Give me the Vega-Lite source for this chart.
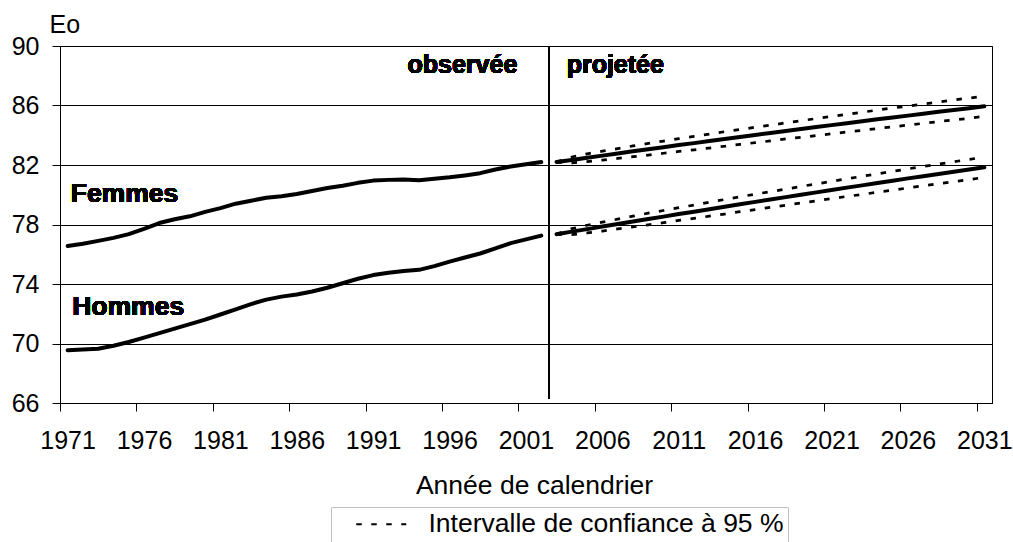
{
  "$schema": "https://vega.github.io/schema/vega-lite/v6.json",
  "width": 932,
  "height": 357,
  "autosize": {"type": "none"},
  "padding": {"left": 60, "top": 46, "right": 21, "bottom": 140},
  "background": "white",
  "config": {
    "font": "Liberation Sans",
    "view": {"stroke": "black", "strokeWidth": 1},
    "axis": {"labelFont": "Liberation Sans", "titleFont": "Liberation Sans", "labelColor": "black", "titleColor": "black"}
  },
  "data": {"values": [
    {"annee": 1971, "sexe": "Femmes", "periode": "observée", "eo": 76.55},
    {"annee": 1972, "sexe": "Femmes", "periode": "observée", "eo": 76.7},
    {"annee": 1973, "sexe": "Femmes", "periode": "observée", "eo": 76.9},
    {"annee": 1974, "sexe": "Femmes", "periode": "observée", "eo": 77.1},
    {"annee": 1975, "sexe": "Femmes", "periode": "observée", "eo": 77.35},
    {"annee": 1976, "sexe": "Femmes", "periode": "observée", "eo": 77.7},
    {"annee": 1977, "sexe": "Femmes", "periode": "observée", "eo": 78.1},
    {"annee": 1978, "sexe": "Femmes", "periode": "observée", "eo": 78.35},
    {"annee": 1979, "sexe": "Femmes", "periode": "observée", "eo": 78.55},
    {"annee": 1980, "sexe": "Femmes", "periode": "observée", "eo": 78.85},
    {"annee": 1981, "sexe": "Femmes", "periode": "observée", "eo": 79.1},
    {"annee": 1982, "sexe": "Femmes", "periode": "observée", "eo": 79.4},
    {"annee": 1983, "sexe": "Femmes", "periode": "observée", "eo": 79.6},
    {"annee": 1984, "sexe": "Femmes", "periode": "observée", "eo": 79.8},
    {"annee": 1985, "sexe": "Femmes", "periode": "observée", "eo": 79.9},
    {"annee": 1986, "sexe": "Femmes", "periode": "observée", "eo": 80.05},
    {"annee": 1987, "sexe": "Femmes", "periode": "observée", "eo": 80.25},
    {"annee": 1988, "sexe": "Femmes", "periode": "observée", "eo": 80.45},
    {"annee": 1989, "sexe": "Femmes", "periode": "observée", "eo": 80.6},
    {"annee": 1990, "sexe": "Femmes", "periode": "observée", "eo": 80.8},
    {"annee": 1991, "sexe": "Femmes", "periode": "observée", "eo": 80.95},
    {"annee": 1992, "sexe": "Femmes", "periode": "observée", "eo": 81.0},
    {"annee": 1993, "sexe": "Femmes", "periode": "observée", "eo": 81.02},
    {"annee": 1994, "sexe": "Femmes", "periode": "observée", "eo": 80.98},
    {"annee": 1995, "sexe": "Femmes", "periode": "observée", "eo": 81.08},
    {"annee": 1996, "sexe": "Femmes", "periode": "observée", "eo": 81.17},
    {"annee": 1997, "sexe": "Femmes", "periode": "observée", "eo": 81.3},
    {"annee": 1998, "sexe": "Femmes", "periode": "observée", "eo": 81.45},
    {"annee": 1999, "sexe": "Femmes", "periode": "observée", "eo": 81.7},
    {"annee": 2000, "sexe": "Femmes", "periode": "observée", "eo": 81.9},
    {"annee": 2001, "sexe": "Femmes", "periode": "observée", "eo": 82.05},
    {"annee": 2002, "sexe": "Femmes", "periode": "observée", "eo": 82.2},
    {"annee": 1971, "sexe": "Hommes", "periode": "observée", "eo": 69.55},
    {"annee": 1972, "sexe": "Hommes", "periode": "observée", "eo": 69.6},
    {"annee": 1973, "sexe": "Hommes", "periode": "observée", "eo": 69.65},
    {"annee": 1974, "sexe": "Hommes", "periode": "observée", "eo": 69.85},
    {"annee": 1975, "sexe": "Hommes", "periode": "observée", "eo": 70.1},
    {"annee": 1976, "sexe": "Hommes", "periode": "observée", "eo": 70.4},
    {"annee": 1977, "sexe": "Hommes", "periode": "observée", "eo": 70.7},
    {"annee": 1978, "sexe": "Hommes", "periode": "observée", "eo": 71.0},
    {"annee": 1979, "sexe": "Hommes", "periode": "observée", "eo": 71.3},
    {"annee": 1980, "sexe": "Hommes", "periode": "observée", "eo": 71.6},
    {"annee": 1981, "sexe": "Hommes", "periode": "observée", "eo": 71.95},
    {"annee": 1982, "sexe": "Hommes", "periode": "observée", "eo": 72.3},
    {"annee": 1983, "sexe": "Hommes", "periode": "observée", "eo": 72.65},
    {"annee": 1984, "sexe": "Hommes", "periode": "observée", "eo": 72.95},
    {"annee": 1985, "sexe": "Hommes", "periode": "observée", "eo": 73.15},
    {"annee": 1986, "sexe": "Hommes", "periode": "observée", "eo": 73.3},
    {"annee": 1987, "sexe": "Hommes", "periode": "observée", "eo": 73.5},
    {"annee": 1988, "sexe": "Hommes", "periode": "observée", "eo": 73.75},
    {"annee": 1989, "sexe": "Hommes", "periode": "observée", "eo": 74.05},
    {"annee": 1990, "sexe": "Hommes", "periode": "observée", "eo": 74.35},
    {"annee": 1991, "sexe": "Hommes", "periode": "observée", "eo": 74.6},
    {"annee": 1992, "sexe": "Hommes", "periode": "observée", "eo": 74.75},
    {"annee": 1993, "sexe": "Hommes", "periode": "observée", "eo": 74.88},
    {"annee": 1994, "sexe": "Hommes", "periode": "observée", "eo": 74.95},
    {"annee": 1995, "sexe": "Hommes", "periode": "observée", "eo": 75.2},
    {"annee": 1996, "sexe": "Hommes", "periode": "observée", "eo": 75.5},
    {"annee": 1997, "sexe": "Hommes", "periode": "observée", "eo": 75.78},
    {"annee": 1998, "sexe": "Hommes", "periode": "observée", "eo": 76.05},
    {"annee": 1999, "sexe": "Hommes", "periode": "observée", "eo": 76.4},
    {"annee": 2000, "sexe": "Hommes", "periode": "observée", "eo": 76.75},
    {"annee": 2001, "sexe": "Hommes", "periode": "observée", "eo": 77.0},
    {"annee": 2002, "sexe": "Hommes", "periode": "observée", "eo": 77.25},
    {"annee": 2003, "sexe": "Femmes", "periode": "projetée", "eo": 82.20, "bas": 82.20, "haut": 82.20},
    {"annee": 2004, "sexe": "Femmes", "periode": "projetée", "eo": 82.34, "bas": 82.14, "haut": 82.54},
    {"annee": 2005, "sexe": "Femmes", "periode": "projetée", "eo": 82.49, "bas": 82.23, "haut": 82.75},
    {"annee": 2006, "sexe": "Femmes", "periode": "projetée", "eo": 82.63, "bas": 82.33, "haut": 82.93},
    {"annee": 2007, "sexe": "Femmes", "periode": "projetée", "eo": 82.77, "bas": 82.44, "haut": 83.10},
    {"annee": 2008, "sexe": "Femmes", "periode": "projetée", "eo": 82.92, "bas": 82.56, "haut": 83.28},
    {"annee": 2009, "sexe": "Femmes", "periode": "projetée", "eo": 83.06, "bas": 82.67, "haut": 83.45},
    {"annee": 2010, "sexe": "Femmes", "periode": "projetée", "eo": 83.20, "bas": 82.79, "haut": 83.61},
    {"annee": 2011, "sexe": "Femmes", "periode": "projetée", "eo": 83.34, "bas": 82.91, "haut": 83.77},
    {"annee": 2012, "sexe": "Femmes", "periode": "projetée", "eo": 83.47, "bas": 83.02, "haut": 83.92},
    {"annee": 2013, "sexe": "Femmes", "periode": "projetée", "eo": 83.61, "bas": 83.14, "haut": 84.08},
    {"annee": 2014, "sexe": "Femmes", "periode": "projetée", "eo": 83.75, "bas": 83.26, "haut": 84.24},
    {"annee": 2015, "sexe": "Femmes", "periode": "projetée", "eo": 83.88, "bas": 83.38, "haut": 84.38},
    {"annee": 2016, "sexe": "Femmes", "periode": "projetée", "eo": 84.02, "bas": 83.50, "haut": 84.54},
    {"annee": 2017, "sexe": "Femmes", "periode": "projetée", "eo": 84.15, "bas": 83.62, "haut": 84.68},
    {"annee": 2018, "sexe": "Femmes", "periode": "projetée", "eo": 84.29, "bas": 83.75, "haut": 84.83},
    {"annee": 2019, "sexe": "Femmes", "periode": "projetée", "eo": 84.42, "bas": 83.86, "haut": 84.98},
    {"annee": 2020, "sexe": "Femmes", "periode": "projetée", "eo": 84.55, "bas": 83.98, "haut": 85.12},
    {"annee": 2021, "sexe": "Femmes", "periode": "projetée", "eo": 84.68, "bas": 84.10, "haut": 85.26},
    {"annee": 2022, "sexe": "Femmes", "periode": "projetée", "eo": 84.81, "bas": 84.22, "haut": 85.40},
    {"annee": 2023, "sexe": "Femmes", "periode": "projetée", "eo": 84.94, "bas": 84.33, "haut": 85.55},
    {"annee": 2024, "sexe": "Femmes", "periode": "projetée", "eo": 85.07, "bas": 84.45, "haut": 85.69},
    {"annee": 2025, "sexe": "Femmes", "periode": "projetée", "eo": 85.20, "bas": 84.57, "haut": 85.83},
    {"annee": 2026, "sexe": "Femmes", "periode": "projetée", "eo": 85.32, "bas": 84.68, "haut": 85.96},
    {"annee": 2027, "sexe": "Femmes", "periode": "projetée", "eo": 85.45, "bas": 84.80, "haut": 86.10},
    {"annee": 2028, "sexe": "Femmes", "periode": "projetée", "eo": 85.58, "bas": 84.92, "haut": 86.24},
    {"annee": 2029, "sexe": "Femmes", "periode": "projetée", "eo": 85.70, "bas": 85.03, "haut": 86.37},
    {"annee": 2030, "sexe": "Femmes", "periode": "projetée", "eo": 85.82, "bas": 85.14, "haut": 86.50},
    {"annee": 2031, "sexe": "Femmes", "periode": "projetée", "eo": 85.95, "bas": 85.27, "haut": 86.63},
    {"annee": 2003, "sexe": "Hommes", "periode": "projetée", "eo": 77.35, "bas": 77.35, "haut": 77.35},
    {"annee": 2004, "sexe": "Hommes", "periode": "projetée", "eo": 77.52, "bas": 77.32, "haut": 77.72},
    {"annee": 2005, "sexe": "Hommes", "periode": "projetée", "eo": 77.69, "bas": 77.43, "haut": 77.95},
    {"annee": 2006, "sexe": "Hommes", "periode": "projetée", "eo": 77.86, "bas": 77.56, "haut": 78.16},
    {"annee": 2007, "sexe": "Hommes", "periode": "projetée", "eo": 78.03, "bas": 77.70, "haut": 78.36},
    {"annee": 2008, "sexe": "Hommes", "periode": "projetée", "eo": 78.20, "bas": 77.84, "haut": 78.56},
    {"annee": 2009, "sexe": "Hommes", "periode": "projetée", "eo": 78.37, "bas": 77.98, "haut": 78.76},
    {"annee": 2010, "sexe": "Hommes", "periode": "projetée", "eo": 78.53, "bas": 78.12, "haut": 78.94},
    {"annee": 2011, "sexe": "Hommes", "periode": "projetée", "eo": 78.70, "bas": 78.27, "haut": 79.13},
    {"annee": 2012, "sexe": "Hommes", "periode": "projetée", "eo": 78.86, "bas": 78.41, "haut": 79.31},
    {"annee": 2013, "sexe": "Hommes", "periode": "projetée", "eo": 79.03, "bas": 78.56, "haut": 79.50},
    {"annee": 2014, "sexe": "Hommes", "periode": "projetée", "eo": 79.19, "bas": 78.70, "haut": 79.68},
    {"annee": 2015, "sexe": "Hommes", "periode": "projetée", "eo": 79.36, "bas": 78.86, "haut": 79.86},
    {"annee": 2016, "sexe": "Hommes", "periode": "projetée", "eo": 79.52, "bas": 79.00, "haut": 80.04},
    {"annee": 2017, "sexe": "Hommes", "periode": "projetée", "eo": 79.68, "bas": 79.15, "haut": 80.21},
    {"annee": 2018, "sexe": "Hommes", "periode": "projetée", "eo": 79.84, "bas": 79.30, "haut": 80.38},
    {"annee": 2019, "sexe": "Hommes", "periode": "projetée", "eo": 80.00, "bas": 79.44, "haut": 80.56},
    {"annee": 2020, "sexe": "Hommes", "periode": "projetée", "eo": 80.16, "bas": 79.59, "haut": 80.73},
    {"annee": 2021, "sexe": "Hommes", "periode": "projetée", "eo": 80.32, "bas": 79.74, "haut": 80.90},
    {"annee": 2022, "sexe": "Hommes", "periode": "projetée", "eo": 80.48, "bas": 79.89, "haut": 81.07},
    {"annee": 2023, "sexe": "Hommes", "periode": "projetée", "eo": 80.63, "bas": 80.02, "haut": 81.24},
    {"annee": 2024, "sexe": "Hommes", "periode": "projetée", "eo": 80.79, "bas": 80.17, "haut": 81.41},
    {"annee": 2025, "sexe": "Hommes", "periode": "projetée", "eo": 80.94, "bas": 80.31, "haut": 81.57},
    {"annee": 2026, "sexe": "Hommes", "periode": "projetée", "eo": 81.10, "bas": 80.46, "haut": 81.74},
    {"annee": 2027, "sexe": "Hommes", "periode": "projetée", "eo": 81.25, "bas": 80.60, "haut": 81.90},
    {"annee": 2028, "sexe": "Hommes", "periode": "projetée", "eo": 81.40, "bas": 80.74, "haut": 82.06},
    {"annee": 2029, "sexe": "Hommes", "periode": "projetée", "eo": 81.55, "bas": 80.88, "haut": 82.22},
    {"annee": 2030, "sexe": "Hommes", "periode": "projetée", "eo": 81.70, "bas": 81.02, "haut": 82.38},
    {"annee": 2031, "sexe": "Hommes", "periode": "projetée", "eo": 81.85, "bas": 81.17, "haut": 82.53}
  ]},
  "encoding": {
    "x": {
      "field": "annee", "type": "quantitative",
      "scale": {"domain": [1970.5, 2031.5], "nice": false, "zero": false},
      "axis": {
        "values": [1970.5, 1975.5, 1980.5, 1985.5, 1990.5, 1995.5, 2000.5, 2005.5, 2010.5, 2015.5, 2020.5, 2025.5, 2030.5],
        "labelExpr": "format(datum.value + 0.5, 'd')",
        "labelOffset": 7.6,
        "grid": false,
        "domainColor": "black", "domainWidth": 1,
        "tickColor": "black", "tickSize": 8, "tickWidth": 1,
        "labelFontSize": 25, "labelPadding": 17, "labelOverlap": false, "labelFlush": false,
        "title": "Année de calendrier",
        "titleFontSize": 26.5, "titleFontWeight": "normal",
        "titleX": 474, "titleY": 90, "titleBaseline": "alphabetic", "titleAlign": "center"
      }
    },
    "y": {
      "field": "eo", "type": "quantitative",
      "scale": {"domain": [66, 90], "nice": false, "zero": false},
      "axis": {
        "values": [66, 70, 74, 78, 82, 86, 90],
        "grid": true, "gridColor": "black", "gridWidth": 1, "gridOpacity": 1,
        "domainColor": "black", "domainWidth": 1,
        "tickColor": "black", "tickSize": 8, "tickWidth": 1,
        "labelFontSize": 25, "labelPadding": 13,
        "title": "Eo", "titleAngle": 0, "titleFontSize": 25, "titleFontWeight": "normal",
        "titleX": -11, "titleY": -14, "titleAlign": "left", "titleBaseline": "alphabetic"
      }
    }
  },
  "layer": [
    {
      "mark": {"type": "line", "color": "black", "strokeWidth": 4, "strokeCap": "round", "strokeJoin": "round"},
      "encoding": {"detail": [{"field": "sexe"}, {"field": "periode"}]}
    },
    {
      "transform": [{"filter": "isValid(datum.bas)"}],
      "mark": {"type": "line", "color": "black", "strokeWidth": 2.75},
      "encoding": {
        "y": {"field": "bas", "type": "quantitative", "title": "Eo"},
        "detail": {"field": "sexe"},
        "strokeDash": {
          "datum": "Intervalle de confiance à 95 %", "type": "nominal",
          "scale": {"range": [[5.5, 9.5]]},
          "legend": {
            "title": null, "orient": "none", "legendX": 271, "legendY": 461,
            "strokeColor": "#c0c0c0", "padding": 4, "fillColor": "white",
            "symbolType": "M-2.5,0H2.5", "symbolSize": 400, "symbolStrokeWidth": 2, "symbolStrokeColor": "black",
            "symbolDash": [8, 5],
            "symbolOffset": 33, "labelOffset": 34,
            "labelFontSize": 26.5, "labelColor": "black", "labelLimit": 500, "labelFont": "Liberation Sans",
            "encode": {"symbols": {"update": {"strokeDash": {"value": [8, 5]}}}}
          }
        }
      }
    },
    {
      "transform": [{"filter": "isValid(datum.haut)"}],
      "mark": {"type": "line", "color": "black", "strokeWidth": 2.75},
      "encoding": {
        "y": {"field": "haut", "type": "quantitative", "title": "Eo"},
        "detail": {"field": "sexe"},
        "strokeDash": {"datum": "Intervalle de confiance à 95 %", "type": "nominal"}
      }
    },
    {
      "mark": {"type": "rule", "color": "black", "strokeWidth": 1.7},
      "encoding": {
        "x": {"datum": 2002.5, "type": "quantitative"},
        "y": {"datum": 90, "type": "quantitative"},
        "y2": {"datum": 66.3}
      }
    },
    {
      "mark": {"type": "text", "align": "left", "baseline": "alphabetic", "fontSize": 26.5, "fontWeight": "bold", "color": "black"},
      "encoding": {
        "x": {"datum": 1971.2, "type": "quantitative"},
        "y": {"datum": 79.48, "type": "quantitative"},
        "text": {"value": "Femmes"}
      }
    },
    {
      "mark": {"type": "text", "align": "left", "baseline": "alphabetic", "fontSize": 26.5, "fontWeight": "bold", "color": "black"},
      "encoding": {
        "x": {"datum": 1971.3, "type": "quantitative"},
        "y": {"datum": 71.92, "type": "quantitative"},
        "text": {"value": "Hommes"}
      }
    },
    {
      "mark": {"type": "text", "align": "right", "baseline": "alphabetic", "fontSize": 25, "fontWeight": "bold", "color": "black"},
      "encoding": {
        "x": {"datum": 2000.43, "type": "quantitative"},
        "y": {"datum": 88.16, "type": "quantitative"},
        "text": {"value": "observée"}
      }
    },
    {
      "mark": {"type": "text", "align": "left", "baseline": "alphabetic", "fontSize": 25, "fontWeight": "bold", "color": "black"},
      "encoding": {
        "x": {"datum": 2003.66, "type": "quantitative"},
        "y": {"datum": 88.16, "type": "quantitative"},
        "text": {"value": "projetée"}
      }
    }
  ]
}
